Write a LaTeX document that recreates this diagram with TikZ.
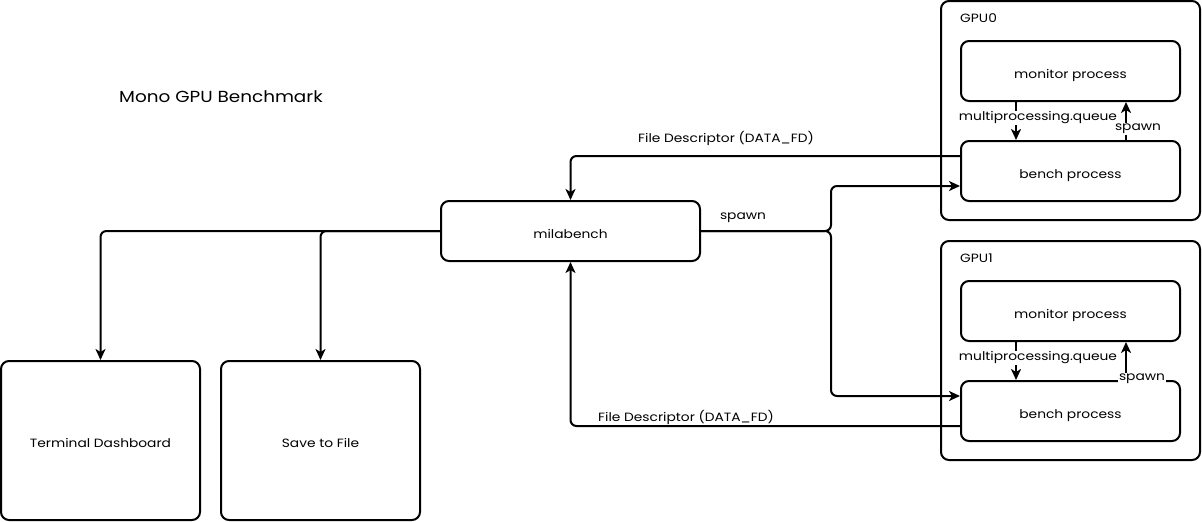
\documentclass[tikz,border=0pt]{standalone}
\usepackage{fontspec}
\setmainfont{Poppins}[FakeStretch=1.15]
\usetikzlibrary{arrows.meta}

\begin{document}
\begin{tikzpicture}[x=1pt,y=-1pt,
	box/.style={draw,line width=2pt,rounded corners=8pt,inner sep=0pt,
		text height=14pt,text depth=0pt,font=\fontsize{12}{14}\selectfont},
	proc/.style={box,minimum width=219pt,minimum height=60pt},
	gpu/.style={box,minimum width=259pt,minimum height=219pt},
	lbl/.style={inner sep=1pt,fill=white,font=\fontsize{12}{14}\selectfont},
	link/.style={line width=2pt,rounded corners=6pt,-{Stealth[length=11pt,width=10pt,inset=3pt]}}]
\useasboundingbox (0,0) rectangle (1202,522);

% title
\node (title) at (221,97) {\fontsize{16}{18}\selectfont Mono GPU Benchmark};

% GPU0
\node[gpu] (gpu0) at (1070.5,110.5) {};
\node[lbl,anchor=west] (gpu0name) at (959,18) {GPU0};
\node[proc] (mon0) at (1070.5,71) {monitor process};
\node[proc] (bench0) at (1070.5,171) {bench process};

% GPU1
\node[gpu] (gpu1) at (1070.5,350.5) {};
\node[lbl,anchor=west] (gpu1name) at (959,258) {GPU1};
\node[proc] (mon1) at (1070.5,311) {monitor process};
\node[proc] (bench1) at (1070.5,411) {bench process};

% main process and outputs
\node[box,minimum width=259pt,minimum height=60pt] (mila) at (570.5,231) {milabench};
\node[box,minimum width=199pt,minimum height=159pt] (term) at (100.5,440.5) {Terminal Dashboard};
\node[box,minimum width=199pt,minimum height=159pt] (save) at (320.5,440.5) {Save to File};

% milabench -> outputs
\draw[link] (mila.west) -| (term.north);
\draw[link] (mila.west) -| (save.north);

% spawn benches
\draw[link] (mila.east) -- ++(130,0) |- ([yshift=-15pt]bench0.west);
\draw[link] (mila.east) -- ++(130,0) |- ([yshift=15pt]bench1.west);
\node[lbl] (spawnmain) at (743,218) {spawn};

% file descriptors back
\draw[link] ([yshift=15pt]bench0.west) -| (mila.north);
\node[lbl] (fd0) at (726,138) {File Descriptor (DATA\_FD)};
\draw[link] ([yshift=-15pt]bench1.west) -| (mila.south);
\node[lbl] (fd1) at (686,417) {File Descriptor (DATA\_FD)};

% inside GPU0
\draw[link] ([xshift=-54.5pt]mon0.south) -- ([xshift=-54.5pt]bench0.north);
\draw[link] ([xshift=55.5pt]bench0.north) -- ([xshift=55.5pt]mon0.south);
\node[lbl] (queue0) at (1038,118) {multiprocessing.queue};
\node[lbl] (spawn0) at (1138,129) {spawn};

% inside GPU1
\draw[link] ([xshift=-54.5pt]mon1.south) -- ([xshift=-54.5pt]bench1.north);
\draw[link] ([xshift=55.5pt]bench1.north) -- ([xshift=55.5pt]mon1.south);
\node[lbl] (queue1) at (1038,358) {multiprocessing.queue};
\node[lbl] (spawn1) at (1142,379) {spawn};

\end{tikzpicture}
\end{document}
